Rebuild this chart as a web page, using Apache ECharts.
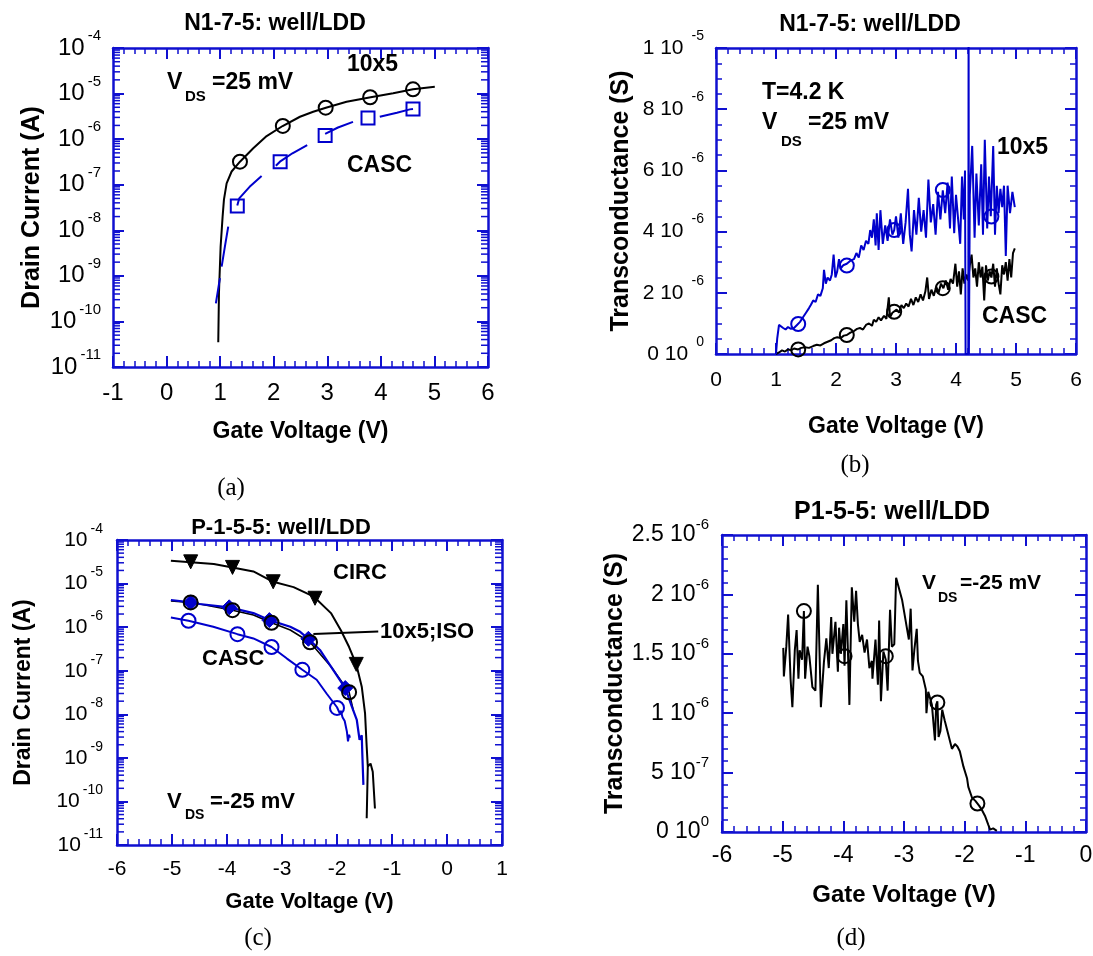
<!DOCTYPE html>
<html>
<head>
<meta charset="utf-8">
<script src="https://cdn.jsdelivr.net/npm/echarts@6/dist/echarts.min.js"></script>
<style>html,body{margin:0;padding:0;background:#fff}#c{width:1093px;height:956px}</style>
</head>
<body>
<div id="c"></div>
<script>
// ---------- DATA ----------
// (a) N1-7-5 drain current vs gate voltage (A)
const a10x5Line = [[0.965,3.5e-11],[0.978,4.2e-10],[1.009,4.4e-9],[1.046,2.0e-8],[1.071,4.7e-8],[1.121,1.07e-7],[1.214,1.95e-7],[1.37,3.2e-7],[1.618,6.3e-7],[1.868,1.17e-6],[2.166,1.94e-6],[2.49,3.1e-6],[2.737,4.0e-6],[2.974,4.9e-6],[3.36,6.6e-6],[3.81,8.3e-6],[4.23,1.02e-5],[4.60,1.24e-5],[5.007,1.41e-5]];
const a10x5Marks = [[1.37,3.2e-7],[2.17,1.95e-6],[2.97,4.9e-6],[3.80,8.3e-6],[4.60,1.24e-5]];
const aCascSegments = [
  [[0.92,2.5e-10],[0.996,8.9e-10]],
  [[1.028,1.6e-9],[1.09,4.5e-9],[1.151,1.2e-8]],
  [[1.32,3.5e-8],[1.356,5.0e-8],[1.55,9.0e-8],[1.774,1.55e-7]],
  [[2.04,2.6e-7],[2.116,3.2e-7],[2.35,4.9e-7],[2.625,7.4e-7]],
  [[2.96,1.3e-6],[3.2,1.8e-6],[3.48,2.4e-6]],
  [[3.98,3.1e-6],[4.3,3.8e-6],[4.54,4.5e-6],[4.60,4.6e-6]]
];
const aCascMarks = [[1.32,3.4e-8],[2.12,3.2e-7],[2.96,1.2e-6],[3.76,2.9e-6],[4.60,4.6e-6]];

// (b) N1-7-5 transconductance (microsiemens)
const b10x5Line = [[1.00,0.0],[1.02,0.5],[1.05,0.95],[1.08,1.0],[1.12,0.85],[1.16,0.8],[1.20,0.88],[1.25,0.82],[1.30,0.85],[1.35,0.95],[1.40,1.05],[1.45,1.2],[1.50,1.35],[1.55,1.5],[1.58,1.6],[1.62,1.75],[1.66,1.7],[1.70,1.95],[1.74,1.9],[1.78,2.15],[1.80,2.75],[1.83,2.3],[1.86,2.5],[1.90,2.4],[1.93,2.6],[1.96,3.25],[1.99,2.5],[2.02,2.7],[2.05,3.1],[2.08,2.8],[2.12,2.9],[2.18,2.95],[2.24,3.05],[2.30,3.1],[2.34,3.3],[2.38,3.15],[2.42,3.55],[2.46,3.4],[2.50,3.7],[2.54,3.6],[2.57,4.05],[2.60,3.8],[2.63,4.4],[2.66,3.55],[2.68,4.6],[2.71,3.4],[2.74,4.7],[2.78,3.6],[2.82,4.2],[2.86,3.7],[2.90,4.4],[2.94,3.9],[2.97,4.05],[3.00,4.5],[3.04,3.8],[3.08,4.6],[3.12,3.6],[3.16,4.3],[3.20,5.4],[3.23,3.9],[3.26,3.35],[3.30,4.7],[3.34,3.9],[3.38,5.1],[3.42,4.0],[3.46,4.7],[3.50,3.8],[3.54,5.7],[3.58,4.3],[3.62,4.9],[3.66,3.9],[3.70,5.3],[3.74,4.4],[3.78,5.35],[3.82,4.6],[3.86,5.6],[3.90,4.1],[3.93,5.8],[3.97,3.95],[4.00,5.2],[4.04,4.3],[4.07,3.6],[4.10,5.8],[4.13,4.4],[4.15,6.0],[4.16,0.0],[4.205,0.0],[4.21,11.0],[4.215,0.0],[4.23,5.2],[4.27,6.8],[4.31,3.8],[4.34,5.9],[4.38,4.2],[4.42,6.2],[4.45,3.9],[4.48,7.0],[4.52,4.1],[4.55,5.8],[4.58,4.5],[4.62,6.8],[4.65,3.9],[4.68,5.5],[4.71,4.6],[4.74,5.4],[4.77,4.8],[4.80,5.5],[4.83,3.2],[4.86,5.5],[4.90,4.6],[4.94,5.3],[4.98,4.8]];
const b10x5Marks = [[1.37,0.98],[2.18,2.89],[2.97,4.05],[3.78,5.36],[4.59,4.49]];
const bCascLine = [[1.00,0.0],[1.05,0.05],[1.10,0.12],[1.15,0.08],[1.20,0.15],[1.25,0.12],[1.30,0.18],[1.37,0.15],[1.42,0.2],[1.48,0.22],[1.55,0.2],[1.62,0.26],[1.68,0.3],[1.74,0.28],[1.80,0.35],[1.86,0.4],[1.92,0.45],[1.97,0.52],[2.02,0.55],[2.08,0.52],[2.13,0.6],[2.18,0.62],[2.24,0.7],[2.30,0.75],[2.35,0.82],[2.40,0.85],[2.45,0.8],[2.50,0.95],[2.55,1.0],[2.60,0.92],[2.63,1.12],[2.67,1.05],[2.71,1.2],[2.75,1.1],[2.80,1.25],[2.84,1.15],[2.88,1.85],[2.90,1.2],[2.94,1.35],[2.97,1.38],[3.01,1.45],[3.05,1.35],[3.09,1.6],[3.13,1.5],[3.17,1.65],[3.21,1.55],[3.25,1.8],[3.29,1.6],[3.33,1.85],[3.37,1.7],[3.41,1.95],[3.45,1.75],[3.49,2.05],[3.52,2.5],[3.55,1.8],[3.59,2.1],[3.63,1.9],[3.67,2.2],[3.71,2.0],[3.75,2.3],[3.79,2.15],[3.83,2.4],[3.87,2.1],[3.91,2.45],[3.95,2.3],[3.99,2.95],[4.02,2.2],[4.05,2.7],[4.08,1.95],[4.11,2.8],[4.14,2.3],[4.17,2.6],[4.20,2.4],[4.23,2.9],[4.26,3.25],[4.29,2.5],[4.32,2.8],[4.35,2.2],[4.38,3.0],[4.41,2.5],[4.44,2.85],[4.47,1.75],[4.50,2.9],[4.53,2.4],[4.56,2.7],[4.59,2.5],[4.62,2.95],[4.65,2.2],[4.68,2.8],[4.71,2.3],[4.74,1.95],[4.77,2.9],[4.80,2.6],[4.83,3.0],[4.86,2.4],[4.89,3.1],[4.92,2.5],[4.95,3.3],[4.98,3.45]];
const bCascMarks = [[1.37,0.15],[2.18,0.62],[2.97,1.38],[3.78,2.15],[4.59,2.53]];
const bYTickLabels = [['0','0'],['2','-6'],['4','-6'],['6','-6'],['8','-6'],['1','-5']];

// (c) P-1-5-5 drain current (A)
const cCircLine = [[-5.02,3.35e-5],[-4.66,3.1e-5],[-4.24,2.8e-5],[-3.90,2.35e-5],[-3.52,1.9e-5],[-3.16,1.1e-5],[-2.79,8.3e-6],[-2.42,5.0e-6],[-2.11,2.1e-6],[-1.93,8.5e-7],[-1.78,3.5e-7],[-1.65,1.4e-7],[-1.55,4.3e-8],[-1.49,1.05e-8],[-1.46,1.8e-9],[-1.44,6.3e-10],[-1.46,4.1e-11],[-1.44,6.3e-10],[-1.39,7.4e-10],[-1.35,4.8e-10],[-1.31,6.9e-11]];
const cCircMarks = [[-4.66,3.15e-5],[-3.90,2.35e-5],[-3.16,1.1e-5],[-2.40,4.6e-6],[-1.65,1.4e-7]];
const cIsoBlackLine = [[-5.02,4.0e-6],[-4.66,3.7e-6],[-3.90,2.45e-6],[-3.52,1.9e-6],[-3.19,1.26e-6],[-2.85,8.6e-7],[-2.49,4.5e-7],[-2.10,1.2e-7],[-1.78,3.2e-8],[-1.70,1.2e-8]];
const cIsoBlackMarks = [[-4.66,3.7e-6],[-3.90,2.45e-6],[-3.19,1.26e-6],[-2.49,4.5e-7],[-1.78,3.2e-8]];
const cIsoBlueLine = [[-5.02,4.2e-6],[-4.66,3.7e-6],[-4.5,3.4e-6],[-3.96,2.85e-6],[-3.52,2.1e-6],[-3.23,1.45e-6],[-2.85,1.02e-6],[-2.67,7.8e-7],[-2.52,5.4e-7],[-2.31,3.0e-7],[-2.07,1.05e-7],[-1.85,4.0e-8],[-1.73,1.5e-8],[-1.64,7.4e-9],[-1.59,2.6e-9],[-1.55,3.3e-9],[-1.54,1.26e-9],[-1.52,2.4e-10]];
const cIsoBlueMarks = [[-4.66,3.7e-6],[-3.96,2.85e-6],[-3.23,1.45e-6],[-2.52,5.4e-7],[-1.85,4.0e-8]];
const cCascLine = [[-5.02,1.66e-6],[-4.70,1.4e-6],[-4.25,1.02e-6],[-3.81,6.9e-7],[-3.52,5.5e-7],[-3.19,3.5e-7],[-2.91,1.9e-7],[-2.63,1.05e-7],[-2.37,6.2e-8],[-2.19,3.0e-8],[-2.00,1.45e-8],[-1.95,1.05e-8],[-1.93,1.2e-8],[-1.90,8.5e-9],[-1.86,7.0e-9],[-1.82,4.0e-9],[-1.80,2.4e-9],[-1.78,3.4e-9],[-1.765,2.9e-9]];
const cCascMarks = [[-4.70,1.4e-6],[-3.81,6.9e-7],[-3.19,3.5e-7],[-2.63,1.05e-7],[-2.00,1.4e-8]];
const cIsoLeader = [[-2.43,7.0e-7],[-1.25,7.9e-7]];

// (d) P1-5-5 transconductance (microsiemens)
const dLine = [[-4.99,1.55],[-4.98,1.31],[-4.94,1.56],[-4.91,1.83],[-4.87,1.29],[-4.84,1.05],[-4.80,1.53],[-4.77,1.70],[-4.74,1.29],[-4.72,1.53],[-4.68,1.45],[-4.65,1.86],[-4.63,1.29],[-4.59,1.56],[-4.56,1.48],[-4.51,1.22],[-4.46,1.19],[-4.42,2.08],[-4.37,1.05],[-4.32,1.43],[-4.28,1.63],[-4.24,1.38],[-4.20,1.81],[-4.18,1.50],[-4.13,1.77],[-4.09,1.35],[-4.07,1.72],[-4.04,1.50],[-4.00,1.75],[-3.98,1.40],[-3.95,1.95],[-3.92,1.45],[-3.90,1.07],[-3.86,2.06],[-3.82,1.77],[-3.79,2.03],[-3.76,1.75],[-3.73,1.60],[-3.69,1.66],[-3.65,1.51],[-3.61,1.62],[-3.57,1.38],[-3.53,1.44],[-3.52,1.29],[-3.47,1.62],[-3.43,1.24],[-3.41,1.78],[-3.38,1.10],[-3.34,1.52],[-3.30,1.45],[-3.27,1.19],[-3.23,1.87],[-3.20,1.56],[-3.16,1.58],[-3.13,2.14],[-3.03,1.95],[-2.92,1.62],[-2.89,1.88],[-2.86,1.36],[-2.83,1.53],[-2.79,1.71],[-2.77,1.44],[-2.74,1.34],[-2.69,1.31],[-2.64,1.20],[-2.63,1.00],[-2.60,1.18],[-2.54,1.07],[-2.49,0.77],[-2.47,1.07],[-2.45,1.10],[-2.43,0.80],[-2.40,0.85],[-2.37,1.03],[-2.33,0.94],[-2.27,0.82],[-2.21,0.70],[-2.16,0.74],[-2.12,0.72],[-2.08,0.68],[-2.02,0.55],[-1.96,0.45],[-1.94,0.38],[-1.88,0.29],[-1.82,0.26],[-1.76,0.22],[-1.72,0.19],[-1.66,0.13],[-1.61,0.06],[-1.58,0.02],[-1.53,0.03],[-1.47,0.01]];
const dMarks = [[-4.65,1.86],[-3.98,1.48],[-3.30,1.48],[-2.45,1.09],[-1.79,0.24]];
const dYTickLabels = [['0','0'],['5','-7'],['1','-6'],['1.5','-6'],['2','-6'],['2.5','-6']];

// ---------- STYLE / LAYOUT ----------
const FRAME = '#1010d0';
const BLUE = '#0000cc';
const BLACK = '#000000';
const FONT = '"Liberation Sans", Arial, sans-serif';
const SERIF = '"Liberation Serif", "Times New Roman", serif';

const grids = [
  {left:113, top:48, width:375, height:319},
  {left:716, top:48, width:360, height:306},
  {left:117, top:540, width:385, height:305},
  {left:722, top:535, width:364, height:297}
];

function frameCommon(minorSplit){
  return {
    axisLine:{show:true, onZero:false, lineStyle:{color:FRAME, width:2.5}},
    axisTick:{show:true, inside:true, length:11, lineStyle:{color:FRAME, width:2}},
    minorTick:{show:minorSplit > 0, inside:true, splitNumber:minorSplit || 5, length:6, lineStyle:{color:FRAME, width:1.5}},
    splitLine:{show:false}, minorSplitLine:{show:false}
  };
}
function xPair(g, min, max, fs, margin, nameGap, nameSize){
  const base = Object.assign({gridIndex:g, type:'value', min:min, max:max, interval:1}, frameCommon(5));
  return [
    Object.assign({}, base, {position:'bottom',
      axisLabel:{show:true, margin:margin, color:'#000', fontFamily:FONT, fontSize:fs},
      name:'Gate Voltage (V)', nameLocation:'middle', nameGap:nameGap,
      nameTextStyle:{fontFamily:FONT, fontWeight:'bold', fontSize:nameSize, color:'#000'}}),
    Object.assign({}, base, {position:'top', axisLabel:{show:false}})
  ];
}
function yPair(g, extra, label, name, nameGap, nameSize){
  const base = Object.assign({gridIndex:g}, extra);
  return [
    Object.assign({}, base, {position:'left', axisLabel:label,
      name:name, nameLocation:'middle', nameGap:nameGap, nameRotate:90,
      nameTextStyle:{fontFamily:FONT, fontWeight:'bold', fontSize:nameSize, color:'#000'}}),
    Object.assign({}, base, {position:'right', axisLabel:{show:false}})
  ];
}
function richLabel(fs, ss, raise, gap, margin, fmt){
  return {show:true, margin:margin, formatter:fmt,
    rich:{
      m:{fontFamily:FONT, fontSize:fs, color:'#000', lineHeight:fs, verticalAlign:'middle'},
      s:{fontFamily:FONT, fontSize:ss, color:'#000', lineHeight:ss, verticalAlign:'middle', padding:[0,0,raise*2,gap]}
    }};
}
const logFmt = v => '{m|10}{s|' + Math.round(Math.log10(v)) + '}';

const xAxes = [].concat(
  xPair(0, -1, 6, 24, 14, 53, 23),
  xPair(1, 0, 6, 21, 16, 61, 23),
  xPair(2, -6, 1, 21, 14, 46, 22),
  xPair(3, -6, 0, 23, 12, 51, 24)
);
const yAxes = [].concat(
  yPair(0, Object.assign({type:'log', logBase:10, min:1e-11, max:1e-4}, frameCommon(0)),
    richLabel(24, 15, 12, 3, 12, logFmt), 'Drain Current (A)', 68, 25),
  yPair(1, Object.assign({type:'value', min:0, max:10, interval:2}, frameCommon(4)),
    richLabel(21, 14, 12, 8, 12, (v,i) => '{m|' + bYTickLabels[i][0] + ' 10}{s|' + bYTickLabels[i][1] + '}'),
    'Transconductance (S)', 82, 25),
  yPair(2, Object.assign({type:'log', logBase:10, min:1e-11, max:1e-4}, frameCommon(0)),
    richLabel(21, 14, 11, 3, 14, logFmt), 'Drain Current (A)', 82, 23),
  yPair(3, Object.assign({type:'value', min:0, max:2.5, interval:0.5}, frameCommon(5)),
    richLabel(23, 15, 10, 0, 13, (v,i) => '{m|' + dYTickLabels[i][0] + ' 10}{s|' + dYTickLabels[i][1] + '}'),
    'Transconductance (S)', 93, 25)
);

function line(g, data, color, w, z){
  return {type:'line', xAxisIndex:2*g, yAxisIndex:2*g, data:data, showSymbol:false, symbol:'none',
    lineStyle:{color:color, width:w||2}, itemStyle:{color:color}, z:z||2, clip:true, connectNulls:false, silent:true};
}
function marks(g, data, symbol, color, filled, size, rotate, z){
  return {type:'scatter', xAxisIndex:2*g, yAxisIndex:2*g, data:data, symbol:symbol, symbolSize:size||13,
    symbolRotate:rotate||0, z:z||3, silent:true,
    itemStyle: filled ? {color:color, borderColor:color, borderWidth:1, opacity:1}
                      : {color:'rgba(255,255,255,0)', borderColor:color, borderWidth:2, opacity:1}};
}
function segs(list){
  const out = [];
  list.forEach((s, k) => { if (k > 0) out.push(['-', '-']); s.forEach(p => out.push(p)); });
  return out;
}
// minor ticks (2..9 x 10^n) on a log y axis, positioned by the axis scale
function logMinorTicks(g, xAnchor, minExp, maxExp){
  const vals = [];
  for (let e = minExp; e < maxExp; e++) for (let k = 2; k <= 9; k++) vals.push([xAnchor, k * Math.pow(10, e)]);
  return {type:'custom', xAxisIndex:2*g, yAxisIndex:2*g, data:vals, silent:true, z:10, clip:false,
    encode:{x:0, y:1},
    renderItem:function(params, api){
      const cs = params.coordSys;
      const y = api.coord([api.value(0), api.value(1)])[1];
      const st = {stroke:FRAME, lineWidth:1.5};
      return {type:'group', children:[
        {type:'line', shape:{x1:cs.x, y1:y, x2:cs.x + 7, y2:y}, style:st},
        {type:'line', shape:{x1:cs.x + cs.width, y1:y, x2:cs.x + cs.width - 7, y2:y}, style:st}
      ]};
    }};
}

const series = [
  logMinorTicks(0, 0, -11, -4),
  logMinorTicks(2, -3, -11, -4),

  line(0, a10x5Line, BLACK, 2),
  marks(0, a10x5Marks, 'circle', BLACK, false, 14),
  line(0, segs(aCascSegments), BLUE, 2),
  marks(0, aCascMarks, 'rect', BLUE, false, 13),

  line(1, bCascLine, BLACK, 2),
  marks(1, bCascMarks, 'circle', BLACK, false, 14),
  line(1, b10x5Line, BLUE, 2, 4),
  marks(1, b10x5Marks, 'circle', BLUE, false, 14, 0, 5),

  line(2, cCircLine, BLACK, 2),
  marks(2, cCircMarks, 'triangle', BLACK, true, 14, 180),
  line(2, cIsoBlackLine, BLACK, 1.5),
  line(2, cIsoBlueLine, BLUE, 2.2, 3),
  marks(2, cIsoBlueMarks, 'diamond', BLUE, true, 15, 0, 4),
  marks(2, cIsoBlackMarks, 'circle', BLACK, false, 14, 0, 5),
  line(2, cCascLine, BLUE, 2),
  marks(2, cCascMarks, 'circle', BLUE, false, 14),
  line(2, cIsoLeader, BLACK, 2),

  line(3, dLine, BLACK, 2),
  marks(3, dMarks, 'circle', BLACK, false, 14)
];

function txt(x, y, text, size, opts){
  opts = opts || {};
  return {type:'text', x:x, y:y, silent:true, z:100,
    style:{text:text, fill:'#000', align:opts.align||'left', verticalAlign:'middle',
      font:(opts.normal ? '' : 'bold ') + size + 'px ' + (opts.family || FONT)}};
}
const graphics = [
  // (a)
  txt(347, 65, '10x5', 23), txt(167, 83, 'V', 23), txt(185, 97, 'DS', 15), txt(212, 83, '=25 mV', 23),
  txt(347, 166, 'CASC', 23),
  // (b)
  txt(762, 93, 'T=4.2 K', 23), txt(762, 123, 'V', 23), txt(781, 142, 'DS', 15), txt(808, 123, '=25 mV', 23),
  txt(997, 148, '10x5', 23), txt(982, 317, 'CASC', 23),
  // (c)
  txt(333, 573, 'CIRC', 22), txt(380, 632, '10x5;ISO', 22), txt(202, 659, 'CASC', 22),
  txt(167, 802, 'V', 22), txt(185, 815, 'DS', 14), txt(210, 802, '=-25 mV', 22),
  // (d)
  txt(922, 583, 'V', 21), txt(938, 598, 'DS', 14), txt(960, 583, '=-25 mV', 21),
  // captions
  txt(231, 488, '(a)', 25, {align:'center', normal:true, family:SERIF}),
  txt(855, 465, '(b)', 25, {align:'center', normal:true, family:SERIF}),
  txt(258, 938, '(c)', 25, {align:'center', normal:true, family:SERIF}),
  txt(851, 938, '(d)', 25, {align:'center', normal:true, family:SERIF})
];

const titleStyle = s => ({fontFamily:FONT, fontWeight:'bold', fontSize:s, color:'#000'});
const option = {
  animation:false,
  backgroundColor:'#fff',
  title:[
    {text:'N1-7-5: well/LDD', left:275, top:12, textAlign:'center', padding:0, textStyle:titleStyle(23)},
    {text:'N1-7-5: well/LDD', left:870, top:13, textAlign:'center', padding:0, textStyle:titleStyle(23)},
    {text:'P-1-5-5: well/LDD', left:281, top:517, textAlign:'center', padding:0, textStyle:titleStyle(22)},
    {text:'P1-5-5: well/LDD', left:892, top:500, textAlign:'center', padding:0, textStyle:titleStyle(25)}
  ],
  grid: grids.map(g => Object.assign({containLabel:false, outerBoundsMode:'none'}, g)),
  xAxis: xAxes,
  yAxis: yAxes,
  series: series,
  graphic: graphics
};
const chart = echarts.init(document.getElementById('c'), null, {renderer:'canvas'});
chart.setOption(option);
</script>
</body>
</html>
